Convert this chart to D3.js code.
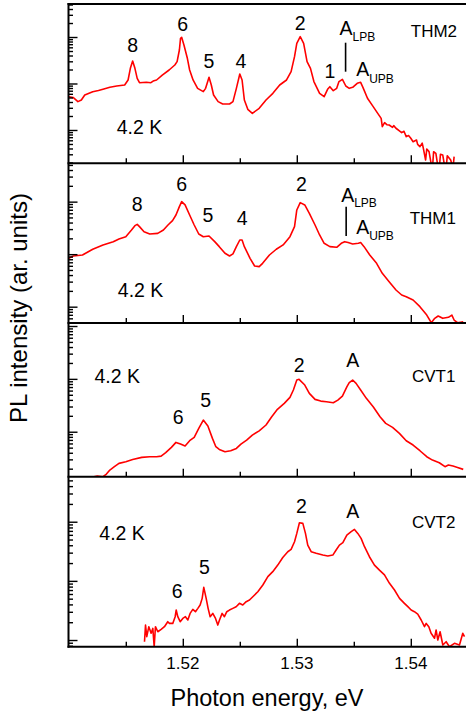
<!DOCTYPE html>
<html>
<head>
<meta charset="utf-8">
<script src="https://cdn.jsdelivr.net/npm/d3@7"></script>
<style>
html,body{margin:0;padding:0;background:#fff;}
svg{display:block;}
text{font-family:"Liberation Sans",Arial,Helvetica,sans-serif;fill:#000;}
</style>
</head>
<body>
<svg id="chart" width="466" height="712"></svg>
<script>
// ---------- DATA ----------
const energyDomain = [1.51, 1.545];
const xMajorTicks = [1.52, 1.53, 1.54];
const xTickLabels = ["1.52", "1.53", "1.54"];
const xMinorTicks = [1.515, 1.525, 1.535];
const sampleNames = ["THM2", "THM1", "CVT1", "CVT2"];
const intensityRanges = [[1.92, 5130], [4.89, 5370], [1.41, 1140], [7.71, 5770]];

// [photon energy (eV), PL intensity (ar. units)]
const thm2 = [
[1.5100,52.1],[1.5104,49.6],[1.5108,40.7],[1.5111,44.2],[1.5114,56.6],[1.5121,66.7],[1.5126,70.5],[1.5130,75.0],[1.5136,82.7],[1.5142,88.3],[1.5149,92.9],[1.5152,119],[1.5154,212],[1.5156,305],[1.5158,212],[1.5160,129],[1.5162,104],[1.5168,106],[1.5172,104],[1.5174,113],[1.5177,119],[1.5182,152],[1.5188,195],[1.5193,250],[1.5195,295],[1.5197,525],[1.5198,936],[1.5199,984],[1.5201,673],[1.5204,348],[1.5206,195],[1.5209,119],[1.5213,78.7],[1.5218,66.7],[1.5220,78.7],[1.5223,136],[1.5225,92.9],[1.5227,56.6],[1.5231,40.7],[1.5235,36.2],[1.5241,36.2],[1.5244,40.7],[1.5247,78.7],[1.5250,160],[1.5252,119],[1.5254,44.2],[1.5257,27.8],[1.5261,22.8],[1.5267,29.2],[1.5273,44.2],[1.5279,61.5],[1.5285,92.9],[1.5291,119],[1.5295,180],[1.5298,378],[1.5300,731],[1.5303,1016],[1.5306,731],[1.5309,295],[1.5312,212],[1.5315,110],[1.5320,61.5],[1.5324,52.1],[1.5327,75.0],[1.5329,85.5],[1.5332,70.1],[1.5335,78.7],[1.5337,110],[1.5340,123],[1.5343,88.3],[1.5346,78.7],[1.5349,82.7],[1.5353,101],[1.5356,106],[1.5358,82.7],[1.5362,48.0],[1.5367,31.8],[1.5371,22.8],[1.5374,17.8],[1.5375,11.8],[1.5377,14.4],[1.5379,13.0],[1.5381,12.8],[1.5384,11.4],[1.5385,12.4],[1.5387,10.9],[1.5390,9.6],[1.5392,8.77],[1.5394,9.4],[1.5396,7.19],[1.5398,7.6],[1.5400,6.62],[1.5402,5.6],[1.5405,6.10],[1.5406,4.9],[1.5408,4.39],[1.5410,5.2],[1.5411,4.04],[1.5413,2.26],[1.5414,3.9],[1.5416,3.42],[1.5418,1.8],[1.5419,1.5],[1.5420,3.4],[1.5422,3.15],[1.5424,1.5],[1.5425,1.5],[1.5426,3.0],[1.5428,2.90],[1.5430,1.5],[1.5431,1.5],[1.5432,2.8],[1.5435,2.26],[1.5437,1.5],[1.5438,2.67]
];
const thm1 = [
[1.5100,83.3],[1.5104,92.3],[1.5112,96.4],[1.5121,124],[1.5130,150],[1.5139,173],[1.5144,195],[1.5150,215],[1.5155,288],[1.5158,349],[1.5160,370],[1.5162,334],[1.5166,268],[1.5171,242],[1.5178,249],[1.5183,288],[1.5187,359],[1.5191,435],[1.5194,557],[1.5197,803],[1.5199,1000],[1.5202,865],[1.5206,557],[1.5210,359],[1.5214,242],[1.5218,215],[1.5223,222],[1.5228,173],[1.5232,139],[1.5237,104],[1.5241,92.3],[1.5244,101],[1.5247,139],[1.5250,186],[1.5252,186],[1.5254,139],[1.5259,83.3],[1.5263,59.6],[1.5267,57.8],[1.5270,66.9],[1.5276,96.4],[1.5282,124],[1.5288,150],[1.5294,215],[1.5298,334],[1.5300,694],[1.5303,957],[1.5307,865],[1.5311,600],[1.5316,359],[1.5320,232],[1.5324,161],[1.5329,139],[1.5335,135],[1.5339,161],[1.5342,173],[1.5345,166],[1.5349,156],[1.5354,161],[1.5356,166],[1.5359,139],[1.5364,96.4],[1.5370,66.9],[1.5375,43.2],[1.5381,29.9],[1.5387,20.8],[1.5392,16.7],[1.5396,15.5],[1.5402,13.4],[1.5408,10.0],[1.5414,6.93],[1.5418,4.95],[1.5421,6.0],[1.5424,6.64],[1.5428,6.0],[1.5433,6.27],[1.5436,6.93],[1.5438,5.57],[1.5441,4.95],[1.5446,5.18]
];
const cvt1 = [
[1.5122,1.41],[1.5125,1.45],[1.5130,1.41],[1.5133,1.58],[1.5136,1.88],[1.5140,2.18],[1.5144,2.52],[1.5150,2.70],[1.5156,2.99],[1.5164,3.27],[1.5171,3.37],[1.5177,3.37],[1.5181,3.46],[1.5185,4.01],[1.5190,5.05],[1.5194,6.28],[1.5198,5.84],[1.5202,5.36],[1.5206,6.76],[1.5210,7.81],[1.5214,11.6],[1.5218,16.6],[1.5222,12.8],[1.5226,7.48],[1.5229,5.20],[1.5232,4.63],[1.5237,4.18],[1.5242,4.37],[1.5247,4.84],[1.5251,5.84],[1.5256,6.95],[1.5261,8.65],[1.5267,10.4],[1.5273,13.4],[1.5278,19.2],[1.5283,26.5],[1.5289,34.4],[1.5294,44.7],[1.5297,61.5],[1.5300,95.1],[1.5302,97.9],[1.5307,76.4],[1.5311,53.2],[1.5316,40.9],[1.5321,38.0],[1.5326,37.0],[1.5332,35.4],[1.5336,39.7],[1.5340,47.3],[1.5344,71.1],[1.5346,84.6],[1.5349,95.1],[1.5352,82.2],[1.5356,61.5],[1.5361,42.8],[1.5367,29.7],[1.5373,19.2],[1.5378,14.4],[1.5384,12.1],[1.5390,9.30],[1.5396,6.76],[1.5402,5.60],[1.5408,4.37],[1.5414,3.37],[1.5419,2.91],[1.5425,2.59],[1.5430,2.18],[1.5433,2.34],[1.5437,2.24],[1.5441,2.11],[1.5446,1.94]
];
const cvt2 = [
[1.51664,9.37],[1.51673,17.9],[1.51684,11.4],[1.51702,16.8],[1.51722,13.0],[1.51737,15.7],[1.51749,7.71],[1.51760,16.8],[1.51781,13.8],[1.51810,15.1],[1.51839,16.8],[1.51868,20.4],[1.51883,19.1],[1.51912,19.1],[1.51933,24.8],[1.51942,32.1],[1.51956,24.8],[1.51977,20.4],[1.52000,23.2],[1.52023,24.8],[1.52044,21.8],[1.52064,28.2],[1.52088,33.0],[1.52111,30.1],[1.52132,34.3],[1.52152,39.1],[1.52170,50.6],[1.52184,77.6],[1.52205,50.6],[1.52222,34.3],[1.52240,24.8],[1.52263,28.2],[1.52287,23.2],[1.52307,17.9],[1.52322,21.8],[1.52345,28.2],[1.52365,24.8],[1.52386,30.1],[1.52409,32.1],[1.52439,34.3],[1.52468,36.6],[1.52497,41.7],[1.52526,39.1],[1.52556,44.5],[1.52585,47.4],[1.52614,54.0],[1.52658,65.6],[1.52702,85.1],[1.52746,118],[1.52789,143],[1.52833,185],[1.52877,249],[1.52921,311],[1.52950,341],[1.52980,459],[1.53000,635],[1.53023,962],[1.53053,937],[1.53076,635],[1.53096,403],[1.53126,311],[1.53170,292],[1.53228,273],[1.53272,263],[1.53316,273],[1.53345,332],[1.53374,403],[1.53404,442],[1.53439,595],[1.53477,678],[1.53506,742],[1.53535,635],[1.53564,523],[1.53594,378],[1.53637,256],[1.53681,185],[1.53725,152],[1.53769,126],[1.53813,90.8],[1.53857,70.0],[1.53901,50.6],[1.53944,41.7],[1.53974,36.6],[1.54003,32.1],[1.54032,30.1],[1.54061,27.5],[1.54091,21.8],[1.54120,16.8],[1.54135,19.1],[1.54158,16.8],[1.54178,13.0],[1.54208,10.7],[1.54222,14.8],[1.54237,10.0],[1.54257,13.8],[1.54281,8.23],[1.54310,9.37],[1.54339,7.71],[1.54383,8.79],[1.54427,8.23],[1.54456,13.0],[1.54471,11.4]
];
const spectra = [thm2, thm1, cvt1, cvt2];

// peak labels: [panel, text, energy]
const peakLabels = [
[0,"8",1.5156],[0,"6",1.5200],[0,"5",1.5223],[0,"4",1.5251],[0,"2",1.5303],[0,"1",1.5329],
[1,"8",1.5160],[1,"6",1.5199],[1,"5",1.5222],[1,"4",1.5252],[1,"2",1.5304],
[2,"6",1.5196],[2,"5",1.5220],[2,"2",1.5302],[2,"A",1.5349],
[3,"6",1.5195],[3,"5",1.5219],[3,"2",1.5304],[3,"A",1.5349]
];
const peakLabelOffsets = [47.5,26.5,64,64,26,74, 47.4,27.4,58.4,61.7,27.4, 101.3,84.3,49.3,43.7, 121.6,97.3,36,41.6];
const tempLabel = "4.2 K";
const tempEnergies = [1.5142, 1.5143, 1.51225, 1.51268];
const tempOffsets = [130, 133.4, 60.3, 63.3];
const nameEnergies = [1.5400, 1.5399, 1.5401, 1.5401];
const nameOffsets = [33, 60.3, 59, 51];
// polariton labels (panels 0 and 1): energy of A_LPB, A_UPB, divider
const polaritonEnergies = [[1.53375, 1.53521, 1.53428], [1.53389, 1.53521, 1.53433]];

// ---------- LAYOUT ----------
const svg = d3.select("#chart");
const W = 466;
const plotLeft = 68.5;
const panelTops = [4, 163.3, 323, 476.7];
const panelBottoms = [163.3, 323, 476.7, 646.7];
const red = "#ff0000";

const x = d3.scaleLinear().domain(energyDomain).range([68.8, 467.8]);

const defs = svg.append("defs");

panelTops.forEach((top, i) => {
  const bottom = panelBottoms[i];
  const y = d3.scaleLog().domain(intensityRanges[i]).range([bottom, top]);
  const g = svg.append("g");

  defs.append("clipPath").attr("id", "clip" + i)
    .append("rect").attr("x", plotLeft).attr("y", top).attr("width", W - plotLeft).attr("height", bottom - top);

  // spectrum
  const line = d3.line().x(d => x(d[0])).y(d => y(d[1]));
  g.append("path").datum(spectra[i])
    .attr("clip-path", `url(#clip${i})`)
    .attr("fill", "none").attr("stroke", red).attr("stroke-width", 1.6)
    .attr("stroke-linejoin", "round")
    .attr("d", line);

  // y ticks (log)
  const all = y.ticks();
  const majors = all.filter(v => Math.abs(Math.log10(v) - Math.round(Math.log10(v))) < 1e-9);
  const minors = all.filter(v => majors.indexOf(v) < 0);
  const yMaj = g.append("g").attr("transform", `translate(${plotLeft},0)`)
    .call(d3.axisRight(y).tickValues(majors).tickSize(9).tickFormat(""));
  const yMin = g.append("g").attr("transform", `translate(${plotLeft},0)`)
    .call(d3.axisRight(y).tickValues(minors).tickSize(4.5).tickFormat(""));
  [yMaj, yMin].forEach(a => { a.select(".domain").remove(); a.selectAll("line").attr("stroke", "#000").attr("stroke-width", 1.4); });

  // x ticks (pointing up, inside)
  const xMaj = g.append("g").attr("transform", `translate(0,${bottom})`)
    .call(d3.axisTop(x).tickValues(xMajorTicks).tickSize(8).tickFormat(""));
  const xMin = g.append("g").attr("transform", `translate(0,${bottom})`)
    .call(d3.axisTop(x).tickValues(xMinorTicks).tickSize(5).tickFormat(""));
  [xMaj, xMin].forEach(a => { a.select(".domain").remove(); a.selectAll("line").attr("stroke", "#000").attr("stroke-width", 1.4); });

  // frame line at bottom of panel
  g.append("line").attr("x1", plotLeft - 1).attr("x2", W).attr("y1", bottom).attr("y2", bottom)
    .attr("stroke", "#000").attr("stroke-width", 2);

  // labels
  peakLabels.forEach((p, k) => {
    if (p[0] !== i) return;
    g.append("text").attr("x", x(p[2])).attr("y", top + peakLabelOffsets[k])
      .attr("text-anchor", "middle").attr("font-size", 19.5).text(p[1]);
  });
  g.append("text").attr("x", x(tempEnergies[i])).attr("y", top + tempOffsets[i])
    .attr("font-size", 19.5).text(tempLabel);
  g.append("text").attr("x", x(nameEnergies[i])).attr("y", top + nameOffsets[i])
    .attr("font-size", 17).text(sampleNames[i]);

  if (i < 2) {
    const pe = polaritonEnergies[i];
    const lpbBase = i === 0 ? 31 : 38.4;
    const upbBase = i === 0 ? 72.3 : 70.7;
    const t1 = g.append("text").attr("x", x(pe[0])).attr("y", top + lpbBase).attr("font-size", 19.5);
    t1.append("tspan").text("A");
    t1.append("tspan").attr("dy", 5.5).attr("font-size", 12).text("LPB");
    const t2 = g.append("text").attr("x", x(pe[1])).attr("y", top + upbBase).attr("font-size", 19.5);
    t2.append("tspan").text("A");
    t2.append("tspan").attr("dy", 6.2).attr("font-size", 12).text("UPB");
    const barTop = i === 0 ? 38.7 : 43.4;
    const barBottom = i === 0 ? 67.7 : 72.7;
    g.append("line").attr("x1", x(pe[2])).attr("x2", x(pe[2]))
      .attr("y1", top + barTop).attr("y2", top + barBottom)
      .attr("stroke", "#000").attr("stroke-width", 1.6);
  }
});

// top frame and left axis
svg.append("line").attr("x1", plotLeft - 1).attr("x2", W).attr("y1", panelTops[0]).attr("y2", panelTops[0])
  .attr("stroke", "#000").attr("stroke-width", 2);
svg.append("line").attr("x1", plotLeft).attr("x2", plotLeft).attr("y1", panelTops[0] - 1).attr("y2", panelBottoms[3] + 1)
  .attr("stroke", "#000").attr("stroke-width", 2);

// x tick labels
xMajorTicks.forEach((v, k) => {
  svg.append("text").attr("x", x(v)).attr("y", 669).attr("text-anchor", "middle")
    .attr("font-size", 17).text(xTickLabels[k]);
});

// axis titles
svg.append("text").attr("x", 267).attr("y", 705.5).attr("text-anchor", "middle")
  .attr("font-size", 23.5).text("Photon energy, eV");
svg.append("text").attr("transform", "translate(27,308) rotate(-90)")
  .attr("text-anchor", "middle").attr("font-size", 24).text("PL intensity (ar. units)");
</script>
</body>
</html>
